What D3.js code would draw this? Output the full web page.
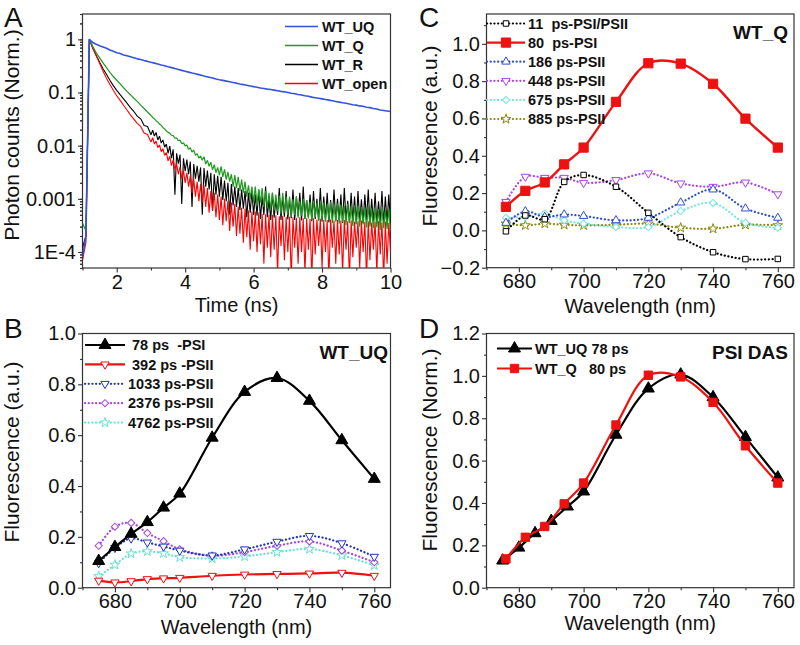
<!DOCTYPE html>
<html><head><meta charset="utf-8">
<script src="https://cdn.jsdelivr.net/npm/d3@7"></script>
<style>body{margin:0;background:#fff}svg text{white-space:pre}</style>
</head><body>
<svg id="chart" width="800" height="645"></svg>
<script>
// ---------------- Panel A: fluorescence decays ----------------
const timeUQ = [1.0,1.1,1.2,1.3,1.4,1.5,1.6,1.7,1.8,1.9,2.0,2.1,2.2,2.3,2.4,2.5,2.6,2.7,2.8,2.9,3.0,3.1,3.2,3.3,3.4,3.5,3.6,3.7,3.8,3.9,4.0,4.1,4.2,4.3,4.4,4.5,4.6,4.7,4.8,4.9,5.0,5.1,5.2,5.3,5.4,5.5,5.6,5.7,5.8,5.9,6.0,6.1,6.2,6.3,6.4,6.5,6.6,6.7,6.8,6.9,7.0,7.1,7.2,7.3,7.4,7.5,7.6,7.7,7.8,7.9,8.0,8.1,8.2,8.3,8.4,8.5,8.6,8.7,8.8,8.9,9.0,9.1,9.2,9.3,9.4,9.5,9.6,9.7,9.8,9.9,10.0];
const countsUQ = [0.00008,0.0002,1.0,0.87,0.81,0.76,0.72,0.68,0.63,0.6,0.56,0.54,0.51,0.49,0.47,0.45,0.43,0.417,0.4,0.385,0.37,0.357,0.344,0.33,0.318,0.305,0.294,0.282,0.272,0.261,0.251,0.242,0.233,0.225,0.217,0.209,0.201,0.194,0.187,0.18,0.174,0.169,0.164,0.159,0.154,0.15,0.145,0.141,0.137,0.133,0.129,0.126,0.122,0.119,0.116,0.114,0.111,0.108,0.105,0.103,0.1,0.097,0.095,0.092,0.09,0.087,0.085,0.082,0.08,0.078,0.076,0.074,0.072,0.07,0.068,0.066,0.064,0.063,0.061,0.059,0.058,0.056,0.055,0.053,0.052,0.05,0.049,0.047,0.046,0.045,0.044];

const timeNs = [1.0,1.1,1.2,1.3,1.4,1.5,1.6,1.7,1.8,1.9,2.0,2.1,2.2,2.3,2.4,2.5,2.6,2.7,2.8,2.9,3.0,
3.05,3.1,3.15,3.2,3.25,3.3,3.35,3.4,3.45,3.5,3.55,3.6,3.65,3.7,3.75,3.8,3.85,3.9,3.95,4.0,
4.05,4.1,4.15,4.2,4.25,4.3,4.35,4.4,4.45,4.5,4.55,4.6,4.65,4.7,4.75,4.8,4.85,4.9,4.95,5.0,
5.05,5.1,5.15,5.2,5.25,5.3,5.35,5.4,5.45,5.5,5.55,5.6,5.65,5.7,5.75,5.8,5.85,5.9,5.95,6.0,
6.05,6.1,6.15,6.2,6.25,6.3,6.35,6.4,6.45,6.5,6.55,6.6,6.65,6.7,6.75,6.8,6.85,6.9,6.95,7.0,
7.05,7.1,7.15,7.2,7.25,7.3,7.35,7.4,7.45,7.5,7.55,7.6,7.65,7.7,7.75,7.8,7.85,7.9,7.95,8.0,
8.05,8.1,8.15,8.2,8.25,8.3,8.35,8.4,8.45,8.5,8.55,8.6,8.65,8.7,8.75,8.8,8.85,8.9,8.95,9.0,
9.05,9.1,9.15,9.2,9.25,9.3,9.35,9.4,9.45,9.5,9.55,9.6,9.65,9.7,9.75,9.8,9.85,9.9,9.95,10.0];
const countsQ = [0.00035,0.00025,1.0,0.74,0.56,0.45,0.36,0.295,0.24,0.2,0.17,0.145,0.123,0.105,0.091,0.078,0.068,0.058,0.05,0.043,0.037,
0.034,0.032,0.0295,0.028,0.0255,0.0242,0.022,0.0206,0.0188,0.0178,
0.0172,0.0157,0.0155,0.0138,0.014,0.0124,0.0127,0.0109,0.0113,0.0099,
0.0103,0.0085,0.0092,0.0076,0.0082,0.0066,0.0071,0.0058,0.0064,0.0053,
0.0062,0.0045,0.0053,0.0041,0.0049,0.0035,0.0044,0.0031,0.0039,0.0028,
0.0041,0.0026,0.0036,0.0023,0.0032,0.0021,0.0029,0.0017,0.0028,0.0016,
0.0026,0.0014,0.0023,0.0013,0.0021,0.0011,0.0018,0.001,0.0017,0.00085,
0.0017,0.00075,0.0015,0.00085,0.0016,0.0007,0.0014,0.00068,0.0013,0.00062,
0.0013,0.0006,0.0012,0.00058,0.00115,0.00052,0.0013,0.00055,0.0011,0.0005,
0.0011,0.00046,0.00098,0.0005,0.0011,0.00044,0.00092,0.00048,0.001,0.00042,
0.00095,0.00043,0.00088,0.0004,0.00092,0.00045,0.00085,0.00038,0.0009,0.0004,
0.00085,0.00037,0.0008,0.0004,0.00088,0.00035,0.00078,0.00038,0.00082,0.00034,
0.00078,0.00036,0.00075,0.00032,0.0008,0.00035,0.00072,0.00031,0.00076,0.00033,
0.00072,0.0003,0.0007,0.00033,0.00068,0.00029,0.00074,0.0003,0.00066,0.00028,
0.00068,0.00029,0.00064,0.00026,0.0007,0.00028,0.00062,0.00027,0.00065,0.00025];
const countsR = [0.00012,0.0002,1.0,0.69,0.5,0.37,0.28,0.22,0.17,0.135,0.11,0.091,0.076,0.063,0.052,0.044,0.036,0.032,0.024,0.023,0.016,
0.0195,0.0152,0.0178,0.0128,0.0151,0.0112,0.0128,0.0094,0.0107,0.0072,
0.0098,0.0058,0.0085,0.0012,0.0072,0.0046,0.0068,0.0008,0.0058,0.0033,
0.0055,0.0029,0.005,0.0007,0.0045,0.0024,0.0042,0.0021,0.0039,0.0005,
0.0038,0.0017,0.0034,0.0015,0.0031,0.0006,0.0029,0.0012,0.0027,0.0011,
0.0026,0.00095,0.0022,0.0009,0.002,0.0005,0.0019,0.00075,0.0017,0.0007,
0.0016,0.00062,0.0015,0.00065,0.0014,0.00045,0.0013,0.00055,0.0014,0.0005,
0.0012,0.00048,0.0015,0.00042,0.0011,0.0005,0.0017,0.00045,0.001,0.0004,
0.0013,0.00044,0.00095,0.0005,0.0016,0.0004,0.0011,0.00046,0.0014,0.00041,
0.001,0.00043,0.0015,0.0004,0.0011,0.00047,0.0013,0.00039,0.0017,0.00042,
0.00095,0.00045,0.0012,0.00038,0.0014,0.00042,0.001,0.0004,0.0016,0.00037,
0.0011,0.00041,0.0013,0.00036,0.00095,0.00043,0.0015,0.00038,0.001,0.00039,
0.0012,0.00035,0.0016,0.0004,0.00092,0.00036,0.0013,0.00038,0.0011,0.00034,
0.0014,0.00037,0.00098,0.00035,0.0012,0.00039,0.0015,0.00033,0.001,0.00036,
0.0013,0.00034,0.0009,0.00037,0.0014,0.00033,0.0011,0.00035,0.0012,0.00034];
const countsOpen = [0.00007,0.00015,1.0,0.68,0.49,0.355,0.25,0.186,0.141,0.11,0.087,0.071,0.0575,0.0468,0.038,0.0316,0.0263,0.023,0.0174,0.0162,0.0117,
0.0141,0.0108,0.0122,0.0092,0.0103,0.0077,0.0088,0.0066,0.0074,0.0052,
0.0063,0.0042,0.0054,0.0036,0.0046,0.0029,0.004,0.0024,0.0034,0.002,
0.0031,0.0017,0.0027,0.0013,0.0024,0.0011,0.0021,0.0009,0.0019,0.00085,
0.0018,0.0007,0.0016,0.00055,0.0014,0.0006,0.0013,0.00045,0.0012,0.0004,
0.0011,0.00032,0.001,0.00038,0.00092,0.00025,0.00085,0.0003,0.0008,0.0002,
0.00072,0.00022,0.00068,0.00015,0.00065,0.00019,0.0006,0.00011,0.00058,0.00016,
0.00058,0.0001,0.00055,0.00014,0.00052,0.00006,0.00051,0.00012,0.0005,0.00008,
0.0005,0.00011,0.00049,0.00004,0.00047,0.00013,0.00048,0.00007,0.00046,0.0001,
0.00046,0.00003,0.00045,0.00012,0.00044,0.00006,0.00045,0.0001,0.00043,0.00004,
0.00043,0.00011,0.00042,0.00003,0.00043,0.00009,0.00041,0.00013,0.00042,0.00005,
0.0004,0.0001,0.0004,0.00003,0.00041,0.00012,0.00039,0.00006,0.0004,0.00009,
0.00039,0.00004,0.0004,0.00011,0.00038,0.00003,0.00039,0.00008,0.00037,0.00012,
0.00038,0.00005,0.00039,0.0001,0.00037,0.00003,0.00038,0.00007,0.00036,0.00011,
0.00037,0.00004,0.00038,0.00009,0.00036,0.00003,0.00037,0.00006,0.00035,0.0001];
const decayNames = ["WT_UQ","WT_Q","WT_R","WT_open"];
const timeTicks = [2,4,6,8,10];
const timeMinorTicks = [1,3,5,7,9];
const logTickValues = [1,0.1,0.01,0.001,0.0001];
const logTickLabels = ["1","0.1","0.01","0.001","1E-4"];

// ---------------- Panel B: WT_UQ DAS ----------------
const wavelengthB = [675,680,685,690,695,700,710,720,730,740,750,760];
const dasUQ78 = [0.105,0.16,0.212,0.258,0.315,0.37,0.59,0.77,0.825,0.735,0.58,0.428];
const dasUQ392 = [0.028,0.021,0.026,0.034,0.037,0.039,0.047,0.052,0.054,0.056,0.059,0.047];
const dasUQ1033 = [0.097,0.157,0.194,0.178,0.162,0.146,0.127,0.151,0.181,0.204,0.175,0.122];
const dasUQ2376 = [0.165,0.24,0.255,0.215,0.183,0.151,0.126,0.14,0.165,0.182,0.146,0.1];
const dasUQ4762 = [0.045,0.09,0.134,0.143,0.135,0.12,0.115,0.123,0.14,0.152,0.127,0.088];
const labelsB = [" 78 ps  -PSI"," 392 ps -PSII","1033 ps-PSII","2376 ps-PSII","4762 ps-PSII"];

// ---------------- Panel C: WT_Q DAS ----------------
const wavelengthC = [676,682,688,694,700,710,720,730,740,750,760];
const dasQ11 = [-0.005,0.08,0.06,0.26,0.297,0.234,0.094,-0.036,-0.117,-0.154,-0.153];
const dasQ80 = [0.126,0.212,0.257,0.354,0.444,0.689,0.896,0.894,0.786,0.599,0.444];
const dasQ186 = [0.04,0.102,0.072,0.085,0.077,0.054,0.067,0.149,0.219,0.117,0.067];
const dasQ448 = [0.153,0.288,0.282,0.282,0.255,0.27,0.306,0.252,0.234,0.257,0.194];
const dasQ675 = [0.068,0.072,0.09,0.054,0.036,0.018,0.018,0.104,0.147,0.041,0.014];
const dasQ885 = [0.036,0.027,0.036,0.03,0.027,0.03,0.036,0.014,0.009,0.03,0.027];
const labelsC = ["11  ps-PSI/PSII","80  ps-PSI","186 ps-PSII","448 ps-PSII","675 ps-PSII","885 ps-PSII"];

// ---------------- Panel D: normalised PSI DAS ----------------
const normUQ78 = [0.128,0.189,0.257,0.315,0.383,0.454,0.722,0.94,1.006,0.899,0.711,0.52];
const normQ80 = [0.136,0.238,0.289,0.396,0.494,0.768,1.003,0.995,0.875,0.67,0.494];
const labelsD = ["WT_UQ 78 ps","WT_Q   80 ps"];

const wlTicks = [680,700,720,740,760];
const wlMinorTicks = [670,690,710,730,750];
const ticksB = [0,0.2,0.4,0.6,0.8,1.0];
const minorB = [0.1,0.3,0.5,0.7,0.9];
const ticksC = [-0.2,0,0.2,0.4,0.6,0.8,1.0];
const minorC = [-0.1,0.1,0.3,0.5,0.7,0.9,1.1];
const ticksD = [0,0.2,0.4,0.6,0.8,1.0,1.2];
const minorD = [0.1,0.3,0.5,0.7,0.9,1.1];

// ---------------- drawing ----------------
const FONT = '"Liberation Sans", Arial, Helvetica, sans-serif';
const svg = d3.select("#chart").attr("font-family", FONT);
const AXC = "#333";

function panel(o) {
  const x = d3.scaleLinear().domain(o.xDomain).range([o.left, o.right]);
  const y = (o.log ? d3.scaleLog() : d3.scaleLinear()).domain(o.yDomain).range([o.bottom, o.top]);
  const g = svg.append("g");
  const cid = "clip" + o.name;
  svg.append("clipPath").attr("id", cid).append("rect")
    .attr("x", o.left).attr("y", o.top).attr("width", o.right - o.left).attr("height", o.bottom - o.top);
  const style = s => { s.select(".domain").remove(); s.selectAll("line").attr("stroke", AXC).attr("stroke-width", 1.1);
    s.attr("font-size", 20).attr("font-family", FONT); s.selectAll("text").attr("fill", "#111"); };
  g.append("g").attr("transform", `translate(0,${o.bottom})`)
    .call(d3.axisBottom(x).tickValues(o.xMinor).tickSize(2.5).tickFormat("").tickSizeOuter(0)).call(style);
  g.append("g").attr("transform", `translate(0,${o.bottom})`)
    .call(d3.axisBottom(x).tickValues(o.xMajor).tickSize(4.5).tickPadding(2).tickFormat(o.xFmt).tickSizeOuter(0)).call(style);
  g.append("g").attr("transform", `translate(${o.left},0)`)
    .call(d3.axisLeft(y).tickValues(o.yMinor).tickSize(2.5).tickFormat("").tickSizeOuter(0)).call(style);
  g.append("g").attr("transform", `translate(${o.left},0)`)
    .call(d3.axisLeft(y).tickValues(o.yMajor).tickSize(4.5).tickPadding(2).tickFormat(o.yFmt).tickSizeOuter(0)).call(style);
  g.append("rect").attr("x", o.left).attr("y", o.top).attr("width", o.right - o.left).attr("height", o.bottom - o.top)
    .attr("fill", "none").attr("stroke", AXC).attr("stroke-width", 1.2);
  svg.append("text").attr("x", (o.left + o.right) / 2).attr("y", o.xTitleY).attr("text-anchor", "middle")
    .attr("font-size", 20).attr("fill", "#111").text(o.xTitle);
  svg.append("text").attr("transform", `translate(${o.yTitleX},${o.yTitleY}) rotate(-90)`).attr("text-anchor", "middle")
    .attr("font-size", 21).attr("fill", "#111").text(o.yTitle);
  svg.append("text").attr("x", o.letterX).attr("y", o.letterY).attr("font-size", 28).attr("fill", "#111").text(o.letter);
  const plot = svg.append("g").attr("clip-path", `url(#${cid})`);
  return {x, y, plot};
}

function marker(sel, type, size, fill, stroke) {
  let sym = d3.symbolTriangle, rot = 0;
  if (type === "triDown") { rot = 180; }
  if (type === "square") sym = d3.symbolSquare;
  if (type === "diamond") { sym = d3.symbolSquare; rot = 45; }
  if (type === "star") sym = d3.symbolStar;
  return sel.append("path").attr("d", d3.symbol().type(sym).size(size)())
    .attr("fill", fill).attr("stroke", stroke).attr("stroke-width", 1)
    .attr("data-rot", rot);
}

function series(P, xs, ys, st) {
  const pts = xs.map((v, i) => [v, ys[i]]);
  const line = d3.line().x(d => P.x(d[0])).y(d => P.y(d[1])).curve(d3.curveCatmullRom.alpha(0.5));
  P.plot.append("path").datum(pts).attr("d", line).attr("fill", "none").attr("stroke", st.color)
    .attr("stroke-width", st.width || 2).attr("stroke-dasharray", st.dash || null).attr("stroke-linecap", st.dash ? "round" : "butt");
  pts.forEach(d => {
    const m = marker(P.plot, st.marker, st.size, st.filled ? st.color : "#fff", st.color);
    m.attr("transform", `translate(${P.x(d[0])},${P.y(d[1])}) rotate(${m.attr("data-rot")})`);
  });
}

function legendRow(x0, x1, yc, st, label, textX) {
  svg.append("line").attr("x1", x0).attr("x2", x1).attr("y1", yc).attr("y2", yc)
    .attr("stroke", st.color).attr("stroke-width", st.width || 2).attr("stroke-dasharray", st.dash || null)
    .attr("stroke-linecap", st.dash ? "round" : "butt");
  if (st.marker) {
    const m = marker(svg, st.marker, st.size, st.filled ? st.color : "#fff", st.color);
    m.attr("transform", `translate(${(x0 + x1) / 2},${yc}) rotate(${m.attr("data-rot")})`);
  }
  svg.append("text").attr("x", textX).attr("y", yc + 5.2).attr("font-size", 14.5).attr("font-weight", "bold")
    .attr("fill", "#111").text(label);
}

const DOT = "0.1 3.6";

// ---- Panel A ----
const A = panel({name: "A", left: 82.5, right: 390.5, top: 14, bottom: 268, xDomain: [1, 10], log: true, yDomain: [5e-5, 3],
  xMajor: timeTicks, xMinor: timeMinorTicks, xFmt: d3.format("d"),
  yMajor: logTickValues, yMinor: null, yFmt: (d) => logTickLabels[logTickValues.indexOf(d)],
  xTitle: "Time (ns)", xTitleY: 312, yTitle: "Photon counts (Norm.)", yTitleX: 19, yTitleY: 135,
  letter: "A", letterX: 4, letterY: 27});
{
  const minors = A.y.ticks().filter(v => !logTickValues.some(t => Math.abs(t - v) / t < 1e-6));
  svg.append("g").attr("transform", "translate(82.5,0)")
    .call(d3.axisLeft(A.y).tickValues(minors).tickSize(2.5).tickFormat("").tickSizeOuter(0))
    .call(s => { s.select(".domain").remove(); s.selectAll("line").attr("stroke", AXC); });
}
const decayColors = ["#3553dc", "#1f9a1f", "#000000", "#ff0000"];
const decayLine = d3.line().x(d => A.x(d[0])).y(d => A.y(d[1]));
const drawDecay = (ts, vs, color, w) => {
  const pts = ts.map((t, i) => [t, vs[i]]);
  A.plot.append("path").datum(pts).attr("d", decayLine).attr("fill", "none")
    .attr("stroke", color).attr("stroke-width", w).attr("stroke-linejoin", "bevel");
};
drawDecay(timeNs, countsR, decayColors[2], 1.1);
drawDecay(timeNs, countsOpen, decayColors[3], 1.1);
drawDecay(timeNs, countsQ, decayColors[1], 1.2);
drawDecay(timeUQ, countsUQ, decayColors[0], 1.6);
decayNames.forEach((n, i) => {
  legendRow(285, 318, 26.5 + i * 19, {color: decayColors[i], width: 1.5}, n, 322);
});

// ---- Panel B ----
const B = panel({name: "B", left: 82.5, right: 390.5, top: 333.5, bottom: 587.7, xDomain: [670, 765], yDomain: [0, 1.0],
  xMajor: wlTicks, xMinor: wlMinorTicks, xFmt: d3.format("d"), yMajor: ticksB, yMinor: minorB, yFmt: d3.format(".1f"),
  xTitle: "Wavelength (nm)", xTitleY: 634, yTitle: "Fluorescence (a.u.)", yTitleX: 19, yTitleY: 452,
  letter: "B", letterX: 4, letterY: 338});
const stB = [
  {color: "#000", marker: "triUp", size: 62, filled: true, width: 2.2},
  {color: "#ee1111", marker: "triDown", size: 30, filled: false, width: 2.2},
  {color: "#2233b8", marker: "triDown", size: 30, filled: false, width: 2.2, dash: DOT},
  {color: "#a545e0", marker: "diamond", size: 26, filled: false, width: 2.2, dash: DOT},
  {color: "#66e3d2", marker: "star", size: 30, filled: false, width: 2.2, dash: DOT}
];
const dataB = [dasUQ78, dasUQ392, dasUQ1033, dasUQ2376, dasUQ4762];
[4, 3, 2, 1, 0].forEach(k => series(B, wavelengthB, dataB[k], stB[k]));
labelsB.forEach((l, i) => legendRow(85, 125, 345 + i * 19.4, stB[i], l, 128));
svg.append("text").attr("x", 388).attr("y", 359).attr("text-anchor", "end").attr("font-size", 19)
  .attr("font-weight", "bold").attr("fill", "#111").text("WT_UQ");

// ---- Panel C ----
const C = panel({name: "C", left: 486.5, right: 794, top: 14, bottom: 267.7, xDomain: [670, 765], yDomain: [-0.2, 1.16],
  xMajor: wlTicks, xMinor: wlMinorTicks, xFmt: d3.format("d"), yMajor: ticksC, yMinor: minorC, yFmt: d3.format(".1f"),
  xTitle: "Wavelength (nm)", xTitleY: 313, yTitle: "Fluorescence (a.u.)", yTitleX: 437, yTitleY: 136,
  letter: "C", letterX: 419, letterY: 27});
const stC = [
  {color: "#000", marker: "square", size: 30, filled: false, width: 2.2, dash: DOT},
  {color: "#ee1111", marker: "square", size: 85, filled: true, width: 2.4},
  {color: "#2e4fd2", marker: "triUp", size: 30, filled: false, width: 2.2, dash: DOT},
  {color: "#a845e5", marker: "triDown", size: 30, filled: false, width: 2.2, dash: DOT},
  {color: "#74e6de", marker: "diamond", size: 26, filled: false, width: 2.2, dash: DOT},
  {color: "#8a8a10", marker: "star", size: 30, filled: false, width: 2.2, dash: DOT}
];
const dataC = [dasQ11, dasQ80, dasQ186, dasQ448, dasQ675, dasQ885];
[5, 4, 3, 2, 0, 1].forEach(k => series(C, wavelengthC, dataC[k], stC[k]));
labelsC.forEach((l, i) => legendRow(487, 525, 23.5 + i * 19.1, stC[i], l, 528));
svg.append("text").attr("x", 788).attr("y", 38.5).attr("text-anchor", "end").attr("font-size", 19)
  .attr("font-weight", "bold").attr("fill", "#111").text("WT_Q");

// ---- Panel D ----
const D = panel({name: "D", left: 486.5, right: 794, top: 333.5, bottom: 587.7, xDomain: [670, 765], yDomain: [0, 1.2],
  xMajor: wlTicks, xMinor: wlMinorTicks, xFmt: d3.format("d"), yMajor: ticksD, yMinor: minorD, yFmt: d3.format(".1f"),
  xTitle: "Wavelength (nm)", xTitleY: 630, yTitle: "Fluorescence (Norm.)", yTitleX: 437, yTitleY: 450,
  letter: "D", letterX: 419, letterY: 338});
const stD = [
  {color: "#000", marker: "triUp", size: 62, filled: true, width: 2.2},
  {color: "#ee1111", marker: "square", size: 70, filled: true, width: 2.2}
];
series(D, wavelengthB, normUQ78, stD[0]);
series(D, wavelengthC, normQ80, stD[1]);
labelsD.forEach((l, i) => legendRow(497, 532, 348.5 + i * 20, stD[i], l, 535));
svg.append("text").attr("x", 788).attr("y", 359).attr("text-anchor", "end").attr("font-size", 19)
  .attr("font-weight", "bold").attr("fill", "#111").text("PSI DAS");
</script>
</body></html>
